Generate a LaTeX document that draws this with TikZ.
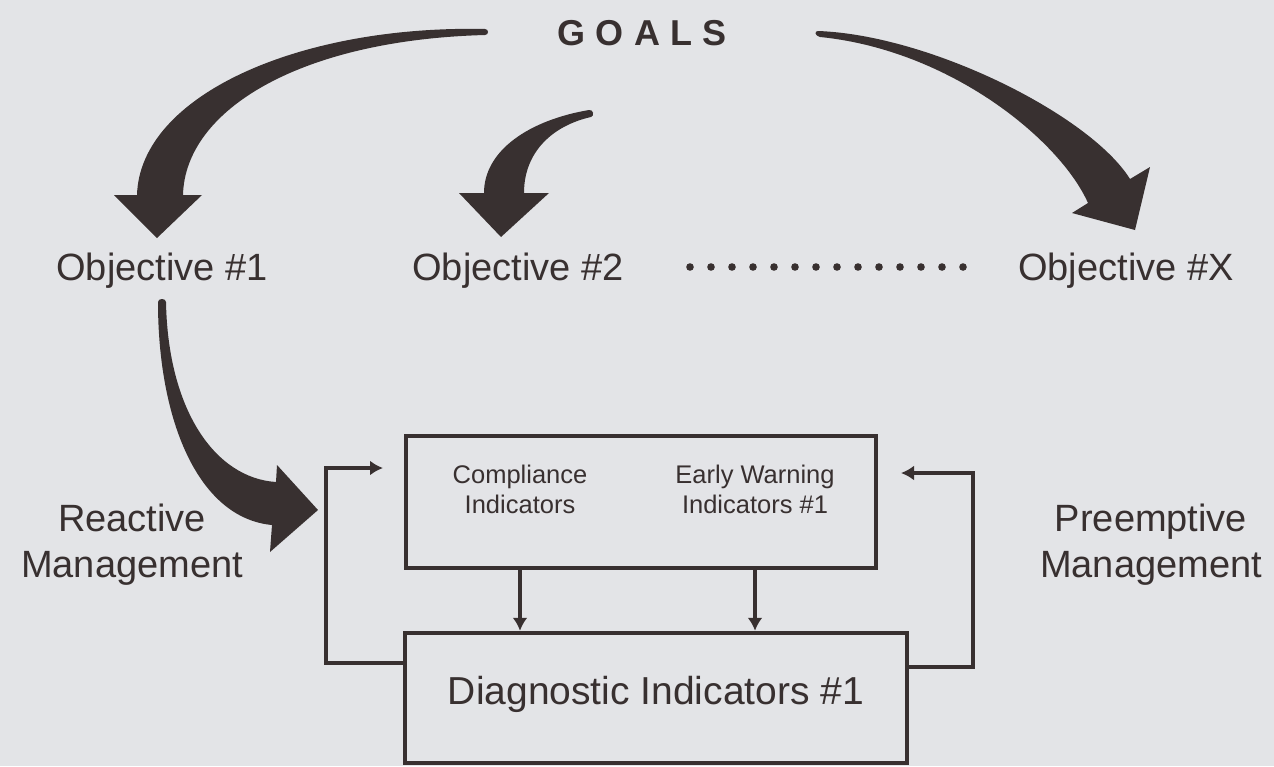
\documentclass[tikz,border=0pt]{standalone}
\usepackage{fontspec}
\setmainfont{Liberation Sans}
\usepackage{tikz}
\usetikzlibrary{arrows.meta,positioning,calc}
\definecolor{ink}{rgb}{.22,.19,.19}
\definecolor{paper}{rgb}{.89,.894,.906}

\begin{document}
\begin{tikzpicture}[x=1pt,y=-1pt,
    bigarrow/.style={fill=ink},
    boxline/.style={draw=ink,line width=4.5pt,inner sep=0pt},
    feed/.style={draw=ink,line width=3.5pt,-{Latex[length=13pt,width=15pt]}},
    bigtext/.style={text=ink,font=\fontsize{38}{46}\selectfont,align=center},
    smalltext/.style={text=ink,font=\fontsize{25.5}{30}\selectfont,align=center}]
    \fill[paper] (0,0) rectangle (1274,766); % page background
    \useasboundingbox (0,0) rectangle (1274,766);

    % headings
    \node[bigtext,font=\bfseries\fontsize{36}{40}\selectfont,anchor=base] (Goals) at (642,45)
        {G\kern10.5pt O\kern10.5pt A\kern10.5pt L\kern10.5pt S};
    \node[bigtext,anchor=base] (ObjOne) at (162,280) {Objective \#1};
    \node[bigtext,anchor=base] (ObjTwo) at (518,280) {Objective \#2};
    \node[bigtext,anchor=base] (ObjX) at (1126,280) {Objective \#X};
    \foreach \i in {0,...,13}{% the row of dots
      \fill[ink] (690+21*\i,267) circle (3.8pt);
    }
    \node[bigtext] (Reactive) at (132,545) {Reactive\\Management};
    \node[bigtext] (Preemptive) at (1151,545) {Preemptive\\Management};

    % big curved arrows
    \fill[bigarrow] (485,29) .. controls (300,25) and (140,95) .. (137,195)
        -- (114,195) -- (157,238) -- (202,195) -- (183,195)
        .. controls (185,110) and (300,40) .. (485,35)
        .. controls (489,35) and (489,29) .. (485,29) -- cycle; % to objective #1
    \fill[bigarrow] (589,110) .. controls (530,120) and (484,150) .. (484,193)
        -- (459,193) -- (501,237) -- (549,193) -- (524,193)
        .. controls (524,150) and (555,125) .. (591,117)
        .. controls (595,116) and (593,109) .. (589,110) -- cycle; % to objective #2
    \fill[bigarrow] (818,31) .. controls (930,35) and (1090,115) .. (1130,179)
        -- (1150,167) -- (1135,230) -- (1072,213) -- (1088,203)
        .. controls (1060,140) and (950,50) .. (820,37)
        .. controls (815,36) and (814,31) .. (818,31) -- cycle; % to objective #X
    \fill[bigarrow] (166,302) .. controls (168,410) and (215,478) .. (276,482)
        -- (277,465) -- (318,510) -- (270,552) -- (272,525)
        .. controls (198,518) and (158,420) .. (158,302)
        .. controls (158,298) and (166,298) .. (166,302) -- cycle; % into the loop

    % indicator boxes
    \node[boxline,minimum width=470pt,minimum height=132pt] (IndBox) at (641,502) {};
    \node[smalltext] (Compliance) at (520,489) {Compliance\\Indicators};
    \node[smalltext] (EarlyWarning) at (755,489) {Early Warning\\Indicators \#1};
    \node[boxline,bigtext,font=\fontsize{39}{46}\selectfont,minimum width=502pt,
        minimum height=130pt,text depth=16pt] (Diagnostic) at (656,698) {Diagnostic Indicators \#1};

    \draw[feed] (Compliance |- IndBox.south) -- (Compliance |- Diagnostic.north);
    \draw[feed] (EarlyWarning |- IndBox.south) -- (EarlyWarning |- Diagnostic.north);

    % feedback loops
    \coordinate (LeftTurn) at (326,468);
    \coordinate (LeftIn) at (383,468);
    \coordinate (RightTurn) at (973,473);
    \coordinate (RightIn) at (901,473);
    \draw[feed] ([yshift=35pt]Diagnostic.west) -| (LeftTurn) -- (LeftIn);
    \draw[feed] ([yshift=31pt]Diagnostic.east) -| (RightTurn) -- (RightIn);
\end{tikzpicture}
\end{document}
